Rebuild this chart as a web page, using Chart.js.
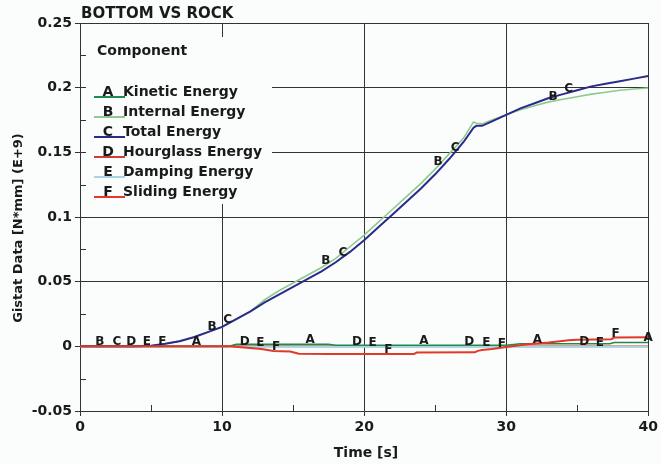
<!DOCTYPE html>
<html>
<head>
<meta charset="utf-8">
<script src="https://cdn.jsdelivr.net/npm/chart.js@4/dist/chart.umd.min.js"></script>
<style>
  html, body { margin: 0; padding: 0; background: #fbfdfd; }
  #wrap { width: 661px; height: 464px; }
</style>
</head>
<body>
<div id="wrap"><canvas id="gistat" width="661" height="464"></canvas></div>
<script>
// ==========================================
// Data
// ==========================================
const chartTitle = 'BOTTOM VS ROCK';
const xTitle = 'Time [s]';
const yTitle = 'Gistat Data [N*mm] (E+9)';
const legendTitle = 'Component';

const componentLetters = ['A', 'B', 'C', 'D', 'E', 'F'];
const componentNames = ['Kinetic Energy', 'Internal Energy', 'Total Energy', 'Hourglass Energy', 'Damping Energy', 'Sliding Energy'];

const yTickLabels = ['-0.05', '0', '0.05', '0.1', '0.15', '0.2', '0.25'];
const xTickLabels = ['0', '10', '20', '30', '40'];

const timeMain = [0, 4, 5, 6, 7, 8, 9, 10, 11, 12, 13, 14, 15, 16, 17, 18, 19, 20, 21, 22, 23, 24, 25, 26, 27,
  27.7, 27.9, 28.3, 29, 30, 31, 32, 33, 34, 35, 36, 37, 38, 39, 40];
const totalEnergy = [0, 0, 0.0005, 0.002, 0.004, 0.007, 0.011, 0.015, 0.021, 0.027, 0.034, 0.040, 0.046, 0.052, 0.058,
  0.065, 0.073, 0.082, 0.092, 0.102, 0.112, 0.122, 0.133, 0.145, 0.158,
  0.169, 0.1705, 0.1705, 0.174, 0.179, 0.184, 0.188, 0.192, 0.195, 0.198, 0.201, 0.203, 0.205, 0.207, 0.209];
const internalEnergy = [0, 0, 0.0005, 0.002, 0.004, 0.007, 0.011, 0.015, 0.021, 0.027, 0.036, 0.043, 0.049, 0.055, 0.061,
  0.068, 0.077, 0.086, 0.096, 0.106, 0.116, 0.126, 0.137, 0.149, 0.161,
  0.1735, 0.1725, 0.172, 0.175, 0.179, 0.183, 0.186, 0.189, 0.191, 0.193, 0.195, 0.1965, 0.198, 0.199, 0.1997];

const timeKinetic = [0, 10.5, 11, 17.5, 18, 30, 31, 37.3, 37.6, 40];
const kineticEnergy = [0, 0, 0.0015, 0.0015, 0.0008, 0.0008, 0.002, 0.002, 0.003, 0.003];

const timeDamping = [0, 10.5, 11, 40];
const dampingEnergy = [0, 0, -0.0004, -0.0004];

const timeHourglass = [0, 40];
const hourglassEnergy = [0, 0];

const timeSliding = [0, 10.5, 12.6, 13.0, 13.6, 14.8, 15.4, 17.6, 20, 23.5, 23.7, 27.8, 28.0, 28.3, 29, 30,
  31.5, 33, 34.4, 35, 37.4, 37.6, 40];
const slidingEnergy = [0, 0, -0.0018, -0.0025, -0.0036, -0.004, -0.0057, -0.006, -0.006, -0.006, -0.0048, -0.0046,
  -0.0035, -0.0028, -0.002, -0.0005, 0.0016, 0.003, 0.0047, 0.005, 0.0055, 0.0068, 0.007];

// where the curve letters sit along each curve (time)
const labelTimesA = [8.2, 16.2, 24.2, 32.2, 40];
const labelTimesB = [1.4, 9.3, 17.3, 25.2, 33.3];
const labelTimesC = [2.6, 10.4, 18.5, 26.4, 34.4];
const labelTimesD = [3.6, 11.6, 19.5, 27.4, 35.5];
const labelTimesE = [4.7, 12.7, 20.6, 28.6, 36.6];
const labelTimesF = [5.8, 13.8, 21.7, 29.7, 37.7];

// ==========================================
// Styles
// ==========================================
const FONT = 'DejaVu Sans';
const INK = '#1a1a1a';
const GRID = '#333333';
const colors = ['#1d8a4e', '#8fc98f', '#2b2b8c', '#d23c34', '#a6d6e4', '#e2382a'];

const toPoints = (ts, vs) => ts.map((t, i) => ({ x: t, y: vs[i] }));

const series = [
  { ts: timeKinetic, vs: kineticEnergy, at: labelTimesA, width: 1.6, order: 2 },
  { ts: timeMain, vs: internalEnergy, at: labelTimesB, width: 1.6, order: 4 },
  { ts: timeMain, vs: totalEnergy, at: labelTimesC, width: 2, order: 1 },
  { ts: timeHourglass, vs: hourglassEnergy, at: labelTimesD, width: 1.6, order: 5 },
  { ts: timeDamping, vs: dampingEnergy, at: labelTimesE, width: 1.6, order: 3 },
  { ts: timeSliding, vs: slidingEnergy, at: labelTimesF, width: 2, order: 0 },
];

function valueAt(ts, vs, t) {
  if (t <= ts[0]) return vs[0];
  for (let i = 1; i < ts.length; i++) {
    if (t <= ts[i]) {
      const f = (t - ts[i - 1]) / (ts[i] - ts[i - 1]);
      return vs[i - 1] + f * (vs[i] - vs[i - 1]);
    }
  }
  return vs[vs.length - 1];
}

// ==========================================
// Overlay: legend box, minor ticks, curve letters, titles
// ==========================================
const overlay = {
  id: 'overlay',
  beforeDatasetsDraw(chart) {
    const { ctx, scales: { x, y } } = chart;
    ctx.save();
    ctx.fillStyle = '#fbfdfd';
    ctx.fillRect(86, 37, 186, 167);

    ctx.strokeStyle = GRID;
    ctx.lineWidth = 1;
    ctx.beginPath();
    for (let v = -0.025; v < 0.25; v += 0.05) {
      const py = Math.round(y.getPixelForValue(v)) + 0.5;
      ctx.moveTo(x.left, py);
      ctx.lineTo(x.left + 6, py);
    }
    for (let t = 5; t < 40; t += 10) {
      const px = Math.round(x.getPixelForValue(t)) + 0.5;
      ctx.moveTo(px, y.bottom);
      ctx.lineTo(px, y.bottom - 6);
    }
    ctx.stroke();
    ctx.restore();
  },
  afterDatasetsDraw(chart) {
    const { ctx, scales: { x, y } } = chart;
    ctx.save();
    ctx.fillStyle = INK;
    ctx.font = `bold 12px "${FONT}"`;
    ctx.textAlign = 'center';
    ctx.textBaseline = 'alphabetic';
    series.forEach((s, i) => {
      s.at.forEach(t => {
        const px = x.getPixelForValue(t);
        const py = y.getPixelForValue(valueAt(s.ts, s.vs, t));
        ctx.fillText(componentLetters[i], px, py - 1);
      });
    });
    ctx.restore();
  },
  afterDraw(chart) {
    const { ctx } = chart;
    ctx.save();
    ctx.fillStyle = INK;
    ctx.textBaseline = 'alphabetic';

    // title
    ctx.font = `bold 15px "${FONT}"`;
    ctx.textAlign = 'left';
    ctx.fillText(chartTitle, 81, 18);

    // axis titles
    ctx.font = `bold 14px "${FONT}"`;
    ctx.textAlign = 'center';
    ctx.fillText(xTitle, 366, 457);
    ctx.save();
    ctx.translate(22, 228);
    ctx.rotate(-Math.PI / 2);
    ctx.font = `bold 13px "${FONT}"`;
    ctx.fillText(yTitle, 0, 0);
    ctx.restore();

    // legend
    ctx.font = `bold 14px "${FONT}"`;
    ctx.textAlign = 'left';
    ctx.fillText(legendTitle, 97, 55);
    componentLetters.forEach((letter, i) => {
      const by = 96 + i * 20;
      ctx.strokeStyle = colors[i];
      ctx.lineWidth = 2;
      ctx.beginPath();
      ctx.moveTo(94, by + 1);
      ctx.lineTo(125, by + 1);
      ctx.stroke();
      ctx.fillStyle = INK;
      ctx.textAlign = 'center';
      ctx.fillText(letter, 108, by);
      ctx.textAlign = 'left';
      ctx.fillText(componentNames[i], 123, by);
    });
    ctx.restore();
  }
};

// ==========================================
// Chart
// ==========================================
new Chart(document.getElementById('gistat'), {
  type: 'line',
  data: {
    datasets: series.map((s, i) => ({
      label: componentNames[i],
      data: toPoints(s.ts, s.vs),
      borderColor: colors[i],
      borderWidth: s.width,
      pointRadius: 0,
      tension: 0,
      fill: false,
      order: s.order,
    }))
  },
  options: {
    responsive: false,
    animation: false,
    layout: { padding: { top: 23, right: 10, left: 0, bottom: 0 } },
    plugins: { legend: { display: false }, tooltip: { enabled: false } },
    scales: {
      x: {
        type: 'linear', min: 0, max: 40,
        ticks: {
          stepSize: 10, maxRotation: 0, padding: 3, color: INK,
          font: { family: FONT, weight: 'bold', size: 14 },
          callback: (v, i) => xTickLabels[i],
        },
        grid: { color: GRID, lineWidth: 1, tickLength: 5 },
        border: { color: GRID, width: 1 },
        afterFit(s) { s.height = 53; },
      },
      y: {
        min: -0.05, max: 0.25,
        ticks: {
          stepSize: 0.05, padding: 3, color: INK,
          font: { family: FONT, weight: 'bold', size: 14 },
          callback: (v, i) => yTickLabels[i],
        },
        grid: { color: GRID, lineWidth: 1, tickLength: 5 },
        border: { color: GRID, width: 1 },
        afterFit(s) { s.width = 80; },
      }
    }
  },
  plugins: [overlay]
});
</script>
</body>
</html>
